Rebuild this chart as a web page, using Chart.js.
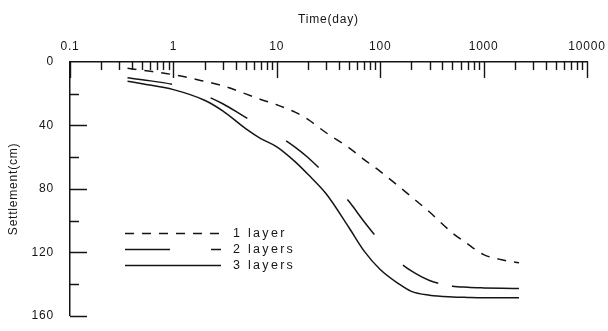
<!DOCTYPE html>
<html>
<head>
<meta charset="utf-8">
<script src="https://cdn.jsdelivr.net/npm/chart.js@4"></script>
<style>
  html, body { margin: 0; padding: 0; background: #fff; }
  #wrap { width: 608px; height: 331px; }
</style>
</head>
<body>
<div id="wrap"><canvas id="c" width="608" height="331"></canvas></div>
<script>
// Elapsed time (days) at which settlement was evaluated
const timeDays = [0.36, 0.5, 1, 2, 3, 5, 7, 10, 15, 20, 30, 50, 70, 100, 150, 200, 300, 500, 700, 1000, 1500, 2200];

// Settlement (cm) for each layering case
const oneLayer   = [3.9, 5.2, 8.0, 12.2, 15.0, 20.1, 23.6, 27.0, 31.6, 36.2, 44.6, 54.1, 61.5, 69.0, 78.2, 84.9, 94.6, 107.8, 114.7, 121.4, 124.7, 126.5];
const twoLayers  = [10.0, 11.2, 14.3, 21.0, 26.3, 34.9, 40.3, 45.9, 53.6, 60.2, 71.4, 88.0, 100.7, 113.2, 125.6, 131.7, 137.7, 141.3, 142.0, 142.4, 142.7, 142.8];
const threeLayers = [12.1, 13.7, 17.4, 24.1, 30.8, 42.0, 48.3, 53.5, 62.8, 70.8, 83.1, 104.5, 119.2, 130.8, 139.7, 144.6, 147.0, 148.1, 148.4, 148.6, 148.6, 148.6];

const seriesNames = ['1 layer', '2 layers', '3 layers'];

// Axis tick labels
const timeTicks = [0.1, 1, 10, 100, 1000, 10000];
const timeTickLabels = ['0.1', '1', '10', '100', '1000', '10000'];
const settlementTicks = [0, 40, 80, 120, 160];

const INK = '#151515';
const FONT = "'Liberation Sans', Arial, Helvetica, sans-serif";

function pairs(values) {
  return timeDays.map((t, i) => ({ x: t, y: values[i] }));
}

// Slightly spaced lettering for all axis text
const textSpacing = {
  id: 'textSpacing',
  beforeDraw(chart) { chart.ctx.letterSpacing = '0.8px'; }
};

// Inward tick marks: long at decades / every 40 cm, short in between
const innerTicks = {
  id: 'innerTicks',
  afterDraw(chart) {
    const { ctx, chartArea } = chart;
    const xs = chart.scales.x, ys = chart.scales.y;
    ctx.save();
    ctx.strokeStyle = INK;
    ctx.lineWidth = 1.4;
    ctx.beginPath();
    for (let d = -1; d <= 4; d++) {
      for (let m = 1; m <= 9; m++) {
        const v = m * Math.pow(10, d);
        if (v > 10000 * 1.0001) break;
        const px = Math.round(xs.getPixelForValue(v)) + 0.5;
        const len = m === 1 ? 16 : 8;
        ctx.moveTo(px, chartArea.top);
        ctx.lineTo(px, chartArea.top + len);
      }
    }
    for (let v = 20; v <= 160; v += 20) {
      const py = Math.round(ys.getPixelForValue(v)) + 0.5;
      const len = v % 40 === 0 ? 17 : 9;
      ctx.moveTo(chartArea.left, py);
      ctx.lineTo(chartArea.left + len, py);
    }
    ctx.stroke();
    ctx.restore();
  }
};

// Legend drawn inside the plot: a line sample followed by the series name
const lineLegend = {
  id: 'lineLegend',
  afterDraw(chart) {
    const { ctx } = chart;
    const rows = [233, 249, 265];
    ctx.save();
    chart.data.datasets.forEach((ds, i) => {
      const y = rows[i] + 0.5;
      ctx.strokeStyle = ds.borderColor;
      ctx.lineWidth = ds.borderWidth;
      ctx.setLineDash(ds.borderDash || []);
      ctx.beginPath();
      ctx.moveTo(125, y);
      ctx.lineTo(221, y);
      ctx.stroke();
      ctx.setLineDash([]);
      ctx.fillStyle = INK;
      ctx.font = '12.5px ' + FONT;
      ctx.letterSpacing = '2.3px';
      ctx.textBaseline = 'middle';
      ctx.textAlign = 'left';
      ctx.fillText(ds.label, 233, y);
    });
    ctx.restore();
  }
};

new Chart(document.getElementById('c'), {
  type: 'line',
  data: {
    datasets: [
      { label: seriesNames[0], data: pairs(oneLayer), borderDash: [9, 8] },
      { label: seriesNames[1], data: pairs(twoLayers), borderDash: [45, 41, 42, 45, 42, 43, 44, 42, 40, 14, 400, 10] },
      { label: seriesNames[2], data: pairs(threeLayers), borderDash: [] }
    ].map(ds => Object.assign({
      borderColor: INK,
      borderWidth: 1.5,
      pointRadius: 0,
      fill: false,
      cubicInterpolationMode: 'monotone'
    }, ds))
  },
  options: {
    responsive: false,
    animation: false,
    devicePixelRatio: 1,
    layout: { padding: { left: 0, top: 0, right: 21, bottom: 10 } },
    plugins: {
      legend: { display: false },
      tooltip: { enabled: false }
    },
    scales: {
      x: {
        type: 'logarithmic',
        position: 'top',
        min: 0.1,
        max: 10000,
        grid: { display: false },
        border: { display: true, color: INK, width: 1.5 },
        afterBuildTicks: s => { s.ticks = timeTicks.map(v => ({ value: v })); },
        afterFit: s => { s.height = 62; },
        ticks: {
          autoSkip: false,
          maxRotation: 0,
          padding: 0,
          color: INK,
          font: { family: FONT, size: 12 },
          callback: (v) => {
            const i = timeTicks.findIndex(t => Math.abs(t - v) < t * 1e-6);
            return i >= 0 ? timeTickLabels[i] : '';
          }
        },
        title: {
          display: true,
          text: 'Time(day)',
          color: INK,
          font: { family: FONT, size: 12 },
          padding: { top: 12, bottom: 0 }
        }
      },
      y: {
        type: 'linear',
        reverse: true,
        min: 0,
        max: 160,
        grid: { display: false },
        border: { display: true, color: INK, width: 1.5 },
        afterBuildTicks: s => { s.ticks = settlementTicks.map(v => ({ value: v })); },
        afterFit: s => { s.width = 70; },
        ticks: {
          padding: 8,
          color: INK,
          font: { family: FONT, size: 12 }
        },
        title: {
          display: true,
          text: 'Settlement(cm)',
          color: INK,
          font: { family: FONT, size: 12 },
          padding: { top: 6, bottom: 0 }
        }
      }
    }
  },
  plugins: [textSpacing, innerTicks, lineLegend]
});
</script>
</body>
</html>
